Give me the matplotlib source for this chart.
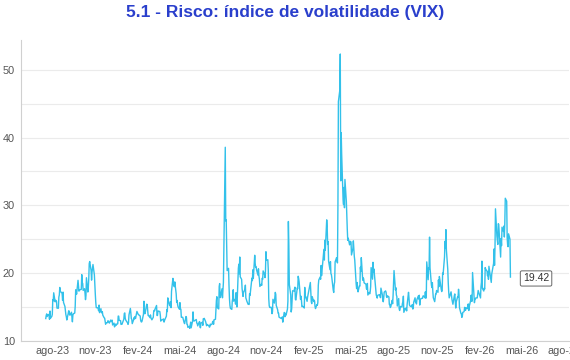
import pandas as pd
import matplotlib
matplotlib.use("Agg")
import matplotlib.pyplot as plt
import matplotlib.dates as mdates
from matplotlib.ticker import MultipleLocator, FuncFormatter

# VIX daily closes, one list per month (first month starts mid-July)
vix_2023 = {
    7: [13.30, 13.76, 13.99, 13.60, 13.91, 13.86, 13.19, 14.41, 13.33, 13.63],
    8: [13.93, 16.09, 15.92, 17.10, 15.77, 15.99, 15.96, 15.85, 14.84, 14.82, 16.46, 16.78,
        17.89, 17.30, 17.13, 16.97, 15.98, 17.20, 15.68, 15.08, 14.45, 13.88, 13.57],
    9: [13.09, 14.02, 14.45, 14.40, 13.84, 13.80, 14.23, 13.48, 12.82, 13.79, 14.00, 14.11,
        15.14, 17.54, 17.20, 16.90, 18.94, 18.22, 17.34, 17.52],
    10: [17.61, 19.78, 18.58, 18.49, 17.45, 17.70, 17.03, 16.09, 16.69, 19.32, 17.21, 17.88,
         19.22, 21.40, 21.71, 20.37, 18.97, 20.19, 20.68, 21.27, 19.75, 18.14],
    11: [16.87, 15.66, 14.91, 14.89, 14.81, 14.45, 15.29, 14.17, 14.76, 14.16, 14.18, 14.32,
         13.80, 13.41, 13.35, 12.85, 12.46, 12.69, 12.69, 12.98, 12.92],
    12: [12.63, 13.08, 12.85, 12.97, 13.06, 12.35, 12.63, 12.07, 12.19, 12.48, 12.28, 12.56,
         12.53, 13.67, 13.65, 13.03, 12.99, 12.43, 12.47, 12.45],
}
vix_2024 = {
    1: [13.20, 14.04, 14.13, 13.35, 13.08, 12.76, 12.69, 12.44, 12.70, 13.84, 14.79, 14.13,
        13.30, 13.19, 12.55, 13.14, 13.45, 13.26, 13.60, 13.31, 14.35],
    2: [13.88, 13.85, 13.67, 13.06, 12.83, 12.79, 12.93, 13.93, 15.85, 14.38, 14.01, 14.24,
        15.42, 15.34, 14.54, 13.75, 13.74, 13.43, 13.84, 13.40],
    3: [13.11, 13.49, 14.46, 14.50, 14.44, 14.74, 15.23, 13.75, 13.75, 14.40, 14.41, 14.33,
        13.82, 12.92, 13.06, 13.06, 13.19, 13.24, 12.78, 13.01],
    4: [13.65, 14.61, 14.33, 16.35, 16.03, 15.19, 15.22, 15.80, 14.91, 17.31, 19.23, 18.40,
        18.21, 18.00, 18.71, 16.94, 15.69, 15.97, 15.37, 15.03, 14.67, 15.65],
    5: [14.75, 14.68, 13.49, 13.49, 13.23, 13.00, 12.69, 12.55, 13.60, 13.42, 12.45, 12.42,
        11.99, 12.15, 11.86, 12.29, 12.77, 11.93, 12.92, 14.28, 13.06, 12.92],
    6: [13.11, 13.16, 12.63, 12.58, 12.22, 12.74, 12.85, 12.04, 11.94, 12.66, 12.75, 12.30,
        13.28, 13.20, 13.33, 12.84, 12.55, 12.24, 12.44],
    7: [12.22, 12.03, 12.09, 12.48, 12.37, 12.51, 12.85, 12.89, 12.46, 13.12, 13.19, 14.48,
        15.93, 16.52, 14.91, 14.72, 18.04, 18.46, 16.39, 16.60, 17.69, 16.36],
    8: [18.59, 23.39, 38.57, 27.71, 27.85, 23.79, 20.37, 20.71, 18.12, 16.19, 15.23, 14.80,
        14.65, 15.88, 16.27, 17.55, 15.86, 16.15, 15.43, 17.11, 15.65, 15.00],
    9: [20.72, 21.32, 19.90, 22.38, 19.45, 19.08, 17.69, 17.07, 16.56, 17.14, 17.61, 18.23,
        16.33, 16.15, 15.89, 15.39, 15.41, 15.37, 16.96, 16.73],
    10: [19.26, 18.90, 20.49, 19.21, 22.64, 21.42, 20.86, 20.93, 20.46, 19.70, 20.64, 19.58,
         19.11, 18.03, 18.37, 18.20, 19.24, 19.08, 20.33, 19.80, 19.34, 20.35, 23.16],
    11: [21.88, 21.98, 20.49, 16.27, 15.20, 14.94, 14.97, 14.71, 14.02, 14.31, 16.14, 15.58,
         16.35, 17.16, 16.87, 15.24, 14.60, 14.10, 14.10, 13.51],
    12: [13.34, 13.30, 13.45, 13.54, 12.77, 14.19, 14.18, 13.58, 13.92, 13.81, 14.69, 15.87,
         27.62, 24.09, 18.36, 16.78, 14.27, 14.73, 15.95, 17.40, 17.35],
}
vix_2025 = {
    1: [17.93, 16.13, 16.04, 17.82, 17.70, 19.54, 19.19, 18.71, 16.12, 16.60, 15.97, 15.06,
        15.10, 15.02, 14.85, 17.90, 16.41, 16.56, 15.84, 16.43],
    2: [18.62, 17.21, 15.77, 15.50, 16.54, 15.81, 16.02, 15.89, 15.10, 14.77, 15.35, 15.27,
        15.66, 18.21, 18.98, 19.43, 19.10, 21.13, 19.63],
    3: [22.78, 23.51, 21.93, 24.87, 23.37, 27.86, 26.92, 24.23, 24.66, 21.77, 20.51, 21.70,
        19.90, 19.80, 19.28, 17.48, 17.15, 18.33, 18.69, 21.65, 22.28],
    4: [21.77, 21.51, 30.02, 45.31, 46.98, 52.33, 33.62, 40.72, 37.56, 30.89, 30.12, 32.64,
        29.65, 33.82, 30.57, 28.45, 26.47, 24.84, 25.15, 24.17, 24.70],
    5: [24.60, 22.68, 23.64, 24.76, 23.55, 22.48, 21.90, 18.39, 17.71, 18.62, 17.83, 17.24,
        18.14, 18.09, 20.87, 20.28, 22.29, 18.96, 19.31, 19.18, 18.57],
    6: [18.36, 17.69, 17.61, 18.48, 16.77, 17.16, 16.95, 17.26, 18.02, 20.82, 19.11, 21.60,
        20.14, 20.62, 19.83, 17.48, 16.76, 16.59, 16.32, 16.73],
    7: [16.83, 16.64, 16.38, 17.79, 16.81, 15.94, 15.78, 16.40, 17.20, 17.38, 17.16, 16.52,
        16.41, 16.65, 16.50, 15.37, 15.39, 14.93, 15.03, 15.98, 15.48, 16.72],
    8: [20.38, 17.52, 17.85, 16.77, 16.57, 15.15, 16.25, 14.73, 14.49, 14.83, 15.09, 15.00,
        15.57, 15.69, 16.60, 14.22, 14.79, 14.62, 14.85, 14.43, 15.36],
    9: [17.17, 16.35, 15.30, 15.18, 15.11, 15.04, 15.35, 14.71, 14.76, 15.69, 16.36, 15.72,
        15.70, 15.45, 16.10, 16.64, 16.18, 16.74, 15.29, 16.12, 16.28],
    10: [16.29, 16.63, 16.65, 16.37, 17.24, 16.30, 16.43, 21.66, 19.03, 20.81, 20.64, 25.31,
         20.78, 18.23, 17.87, 18.60, 17.30, 16.37, 15.79, 16.42, 16.92, 16.91, 17.44],
    11: [17.17, 19.00, 18.01, 19.50, 19.08, 17.60, 17.28, 17.51, 20.00, 19.83, 22.38, 24.69,
         23.66, 26.42, 23.43, 20.52, 18.56, 17.19, 16.35],
    12: [17.24, 16.59, 16.08, 15.78, 15.41, 16.66, 16.93, 15.77, 14.85, 15.74, 16.50, 16.48,
         17.62, 16.87, 14.91, 14.08, 14.00, 13.47, 13.60, 14.20, 14.33, 14.95],
}
vix_2026 = {
    1: [14.51, 14.90, 14.75, 15.38, 15.45, 14.49, 15.12, 15.98, 16.75, 15.84, 15.86, 20.09,
        16.90, 15.64, 16.09, 16.15, 16.35, 16.35, 16.88, 17.44],
    2: [16.34, 18.00, 18.64, 21.77, 17.76, 17.36, 17.79, 17.65, 20.82, 20.60, 20.29, 19.62,
        20.23, 19.09, 21.01, 19.55, 19.00, 18.63, 19.86],
    3: [21.44, 23.57, 21.15, 23.75, 29.49, 25.50, 24.93, 24.23, 27.29, 27.19, 23.51, 22.37,
        25.09, 24.06, 26.78, 26.15, 26.95, 25.33, 27.44, 31.05, 30.61, 25.25],
    4: [24.20, 23.90, 25.80, 25.00, 19.42],
}

meses = ["jan", "fev", "mar", "abr", "mai", "jun", "jul", "ago", "set", "out", "nov", "dez"]
title = "5.1 - Risco: índice de volatilidade (VIX)"

# build the daily series on business days of each month
dates, values = [], []
first = True
for year, months in [(2023, vix_2023), (2024, vix_2024), (2025, vix_2025), (2026, vix_2026)]:
    for m, vals in months.items():
        start = pd.Timestamp(year=year, month=m, day=1)
        days = pd.bdate_range(start, start + pd.offsets.MonthEnd(0))
        days = days[-len(vals):] if first else days[:len(vals)]
        first = False
        dates.extend(days)
        values.extend(vals)
s = pd.Series(values, index=pd.DatetimeIndex(dates))

fig = plt.figure(figsize=(5.7, 3.6), dpi=100)
ax = fig.add_axes([0.036, 0.053, 0.962, 0.836])
ax.plot(s.index, s.values, color="#33c1ea", lw=1.0)

ax.set_ylim(10, 54.4)
ax.set_xlim(pd.Timestamp("2023-05-25"), pd.Timestamp("2026-08-10"))
ax.yaxis.set_major_locator(MultipleLocator(10))
ax.yaxis.set_minor_locator(MultipleLocator(5))
ax.grid(axis="y", which="both", color="#ebebeb", lw=0.8)
ax.set_axisbelow(True)

ax.xaxis.set_major_locator(mdates.MonthLocator(bymonth=[2, 5, 8, 11]))
ax.xaxis.set_major_formatter(FuncFormatter(
    lambda x, pos: f"{meses[mdates.num2date(x).month - 1]}-{mdates.num2date(x).strftime('%y')}"))

for side in ["top", "right"]:
    ax.spines[side].set_visible(False)
for side in ["left", "bottom"]:
    ax.spines[side].set_color("#d0d0d0")
ax.tick_params(which="both", length=0, labelsize=7.8, labelcolor="#555555", pad=4,
               labelfontfamily="Liberation Sans")

last_x, last_v = s.index[-1], s.values[-1]
ax.annotate(f"{last_v:.2f}", xy=(last_x, last_v), xytext=(9, -1), textcoords="offset points",
            ha="left", va="center", fontsize=7.5, color="#333333", family="Liberation Sans",
            bbox=dict(boxstyle="round,pad=0.25,rounding_size=0.15", fc="white", ec="#666666", lw=0.7))

fig.text(0.5, 1 - 12 / 360, title, ha="center", va="center", fontsize=12.5, fontweight="bold",
         color="#2a3fcc", family="Liberation Sans")

fig.savefig("out.png", dpi=100)
